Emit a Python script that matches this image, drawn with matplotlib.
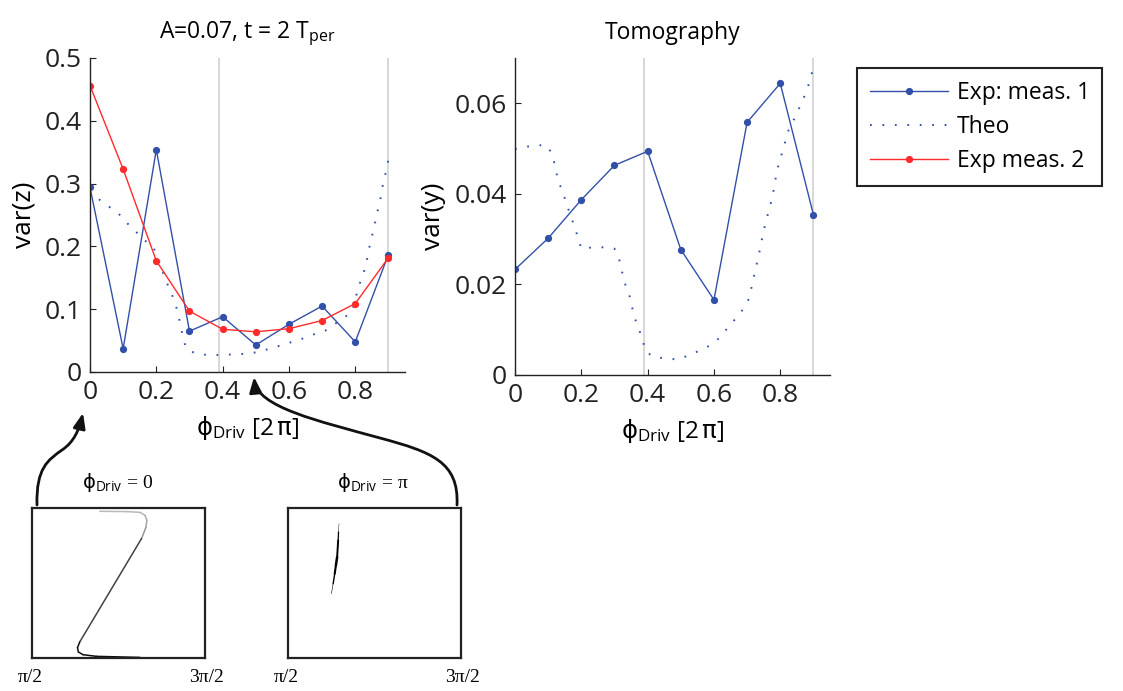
import numpy as np
import matplotlib
matplotlib.use("Agg")
import matplotlib.pyplot as plt
from matplotlib.collections import LineCollection
from matplotlib.patches import FancyArrowPatch
from matplotlib.path import Path

plt.rcParams['font.family'] = ['Open Sans', 'DejaVu Sans']
plt.rcParams['mathtext.fontset'] = 'custom'
plt.rcParams['mathtext.rm'] = 'Open Sans'
plt.rcParams['mathtext.it'] = 'Open Sans'
plt.rcParams['mathtext.sf'] = 'DejaVu Sans'

# driving phase [2 pi]
phi = [0.0, 0.1, 0.2, 0.3, 0.4, 0.5, 0.6, 0.7, 0.8, 0.9]

# var(z): two measurement runs
var_z_meas1 = [0.294, 0.037, 0.354, 0.065, 0.088, 0.043, 0.076, 0.105, 0.048, 0.187]
var_z_meas2 = [0.456, 0.323, 0.177, 0.097, 0.068, 0.064, 0.069, 0.082, 0.109, 0.182]

# var(z): theory curve
theo_z_phi = [0.027, 0.058, 0.085, 0.11, 0.136, 0.161, 0.19, 0.206, 0.226, 0.246,
              0.26, 0.27, 0.28, 0.29, 0.32, 0.357, 0.397, 0.43, 0.47, 0.51,
              0.54, 0.58, 0.61, 0.64, 0.68, 0.71, 0.74, 0.77, 0.79, 0.81,
              0.825, 0.835, 0.845, 0.855, 0.87, 0.88, 0.885, 0.895, 0.9]
theo_z = [0.275, 0.263, 0.253, 0.238, 0.225, 0.211, 0.2, 0.181, 0.149, 0.125,
          0.104, 0.082, 0.056, 0.037, 0.029, 0.027, 0.027, 0.028, 0.029, 0.032,
          0.037, 0.043, 0.048, 0.053, 0.061, 0.066, 0.077, 0.088, 0.096, 0.136,
          0.157, 0.178, 0.205, 0.226, 0.263, 0.285, 0.306, 0.322, 0.34]

# var(y) from tomography
var_y_meas1 = [0.0233, 0.0302, 0.0387, 0.0463, 0.0494, 0.0277, 0.0166, 0.0558, 0.0644, 0.0354]

theo_y_phi = [0.0, 0.035, 0.07, 0.1, 0.115, 0.13, 0.145, 0.155, 0.17, 0.18,
              0.19, 0.2, 0.235, 0.27, 0.3, 0.315, 0.33, 0.345, 0.36, 0.375,
              0.384, 0.396, 0.42, 0.456, 0.49, 0.526, 0.56, 0.59, 0.62, 0.64,
              0.666, 0.69, 0.706, 0.72, 0.736, 0.75, 0.76, 0.776, 0.79, 0.8,
              0.81, 0.827, 0.847, 0.862, 0.88, 0.897]
theo_y = [0.0499, 0.0504, 0.0508, 0.0505, 0.048, 0.0429, 0.0403, 0.0378, 0.0348, 0.0326,
          0.0304, 0.0279, 0.0282, 0.0282, 0.0279, 0.0253, 0.0205, 0.0176, 0.0128, 0.0099,
          0.0077, 0.0051, 0.0039, 0.0037, 0.0034, 0.0044, 0.0055, 0.0066, 0.0084, 0.0103,
          0.0125, 0.0147, 0.0169, 0.0216, 0.0268, 0.0319, 0.0348, 0.0392, 0.0451, 0.0477,
          0.0502, 0.0546, 0.0572, 0.0598, 0.0627, 0.0671]

# reference phases marked in both panels
guide_phi = [0.39, 0.9]

# phase-space snapshots (normalised inset coordinates)
snap0_u = [0.392, 0.546, 0.624, 0.653, 0.664, 0.658, 0.633, 0.276, 0.263, 0.268, 0.295, 0.373, 0.624]
snap0_v = [0.978, 0.976, 0.971, 0.951, 0.918, 0.869, 0.796, 0.107, 0.069, 0.040, 0.022, 0.011, 0.004]
snap1_u = [0.295, 0.292, 0.290, 0.284, 0.277, 0.270, 0.261, 0.251]
snap1_v = [0.896, 0.840, 0.784, 0.673, 0.618, 0.562, 0.495, 0.429]
snap1_w = [0.3, 0.9, 1.4, 1.8, 1.5, 1.0, 0.4]

BLUE = '#3350a8'
RED = '#ff2a2a'
GUIDE = '#d4d4d4'
TICK_FS = 19
LABEL_FS = 19

W, H = 1123, 691
fig = plt.figure(figsize=(W / 100, H / 100), dpi=100)


def px(x, y):
    return (x / W, 1 - y / H)


def style_axes(ax):
    for s in ('top', 'right'):
        ax.spines[s].set_visible(False)
    for s in ('left', 'bottom'):
        ax.spines[s].set_linewidth(1.0)
        ax.spines[s].set_color('#222222')
    ax.tick_params(direction='in', length=4, width=0.8, labelsize=TICK_FS,
                   colors='#222222', pad=6)
    for g in guide_phi:
        ax.axvline(g, color=GUIDE, lw=1.3, zorder=0)


theo_kw = dict(color=BLUE, lw=1.4, linestyle=(0, (0.9, 5.5)))
meas_kw = dict(lw=1.0, marker='o', ms=4.2)
PHI = r'\mathsf{\phi}_{\mathrm{Driv}}'
xlab = r'$' + PHI + r'$ [2$\,\mathsf{\pi}$]'

ax1 = fig.add_axes([90 / W, 1 - 372 / H, 315 / W, 314 / H])
style_axes(ax1)
l1, = ax1.plot(phi, var_z_meas1, color=BLUE, label='Exp: meas. 1', **meas_kw)
l2, = ax1.plot(theo_z_phi, theo_z, label='Theo', **theo_kw)
l3, = ax1.plot(phi, var_z_meas2, color=RED, label='Exp meas. 2', **meas_kw)
ax1.set_xlim(0, 0.95)
ax1.set_ylim(0, 0.5)
ax1.set_xticks([0, 0.2, 0.4, 0.6, 0.8])
ax1.set_xticklabels(['0', '0.2', '0.4', '0.6', '0.8'])
ax1.set_yticks([0, 0.1, 0.2, 0.3, 0.4, 0.5])
ax1.set_yticklabels(['0', '0.1', '0.2', '0.3', '0.4', '0.5'])
ax1.set_ylabel('var(z)', fontsize=LABEL_FS, labelpad=6)
ax1.set_xlabel(xlab, fontsize=17.5, labelpad=6)
ax1.set_title(r'A=0.07, t = 2 T$_{\mathrm{per}}$', fontsize=16.5, pad=14)

ax2 = fig.add_axes([515 / W, 1 - 375 / H, 315 / W, 317 / H])
style_axes(ax2)
ax2.plot(phi, var_y_meas1, color=BLUE, **meas_kw)
ax2.plot(theo_y_phi, theo_y, **theo_kw)
ax2.set_xlim(0, 0.95)
ax2.set_ylim(0, 0.07)
ax2.set_xticks([0, 0.2, 0.4, 0.6, 0.8])
ax2.set_xticklabels(['0', '0.2', '0.4', '0.6', '0.8'])
ax2.set_yticks([0, 0.02, 0.04, 0.06])
ax2.set_yticklabels(['0', '0.02', '0.04', '0.06'])
ax2.set_ylabel('var(y)', fontsize=LABEL_FS, labelpad=6)
ax2.set_xlabel(xlab, fontsize=17.5, labelpad=6)
ax2.set_title('Tomography', fontsize=16.5, pad=14)

leg = fig.legend(handles=[l1, l2, l3], loc='upper left',
                 bbox_to_anchor=px(857, 68), fontsize=16.5, frameon=True,
                 fancybox=False, edgecolor='#222222', framealpha=1,
                 handlelength=3.4, handletextpad=0.4, labelspacing=0.45,
                 borderpad=0.55, borderaxespad=0)
leg.get_frame().set_linewidth(1.5)

# phase-space insets
def snapshot_axes(x0):
    ax = fig.add_axes([x0 / W, 1 - 658 / H, 173 / W, 150 / H])
    ax.set_xlim(0, 1)
    ax.set_ylim(0, 1)
    ax.set_xticks([])
    ax.set_yticks([])
    for s in ax.spines.values():
        s.set_linewidth(1.6)
        s.set_color('#222222')
    return ax


axs0 = snapshot_axes(32)
pts = np.column_stack([snap0_u, snap0_v])
segs = np.stack([pts[:-1], pts[1:]], axis=1)
mid_v = 0.5 * (pts[:-1, 1] + pts[1:, 1])
grays = [(0.05 + 0.7 * v ** 1.5,) * 3 for v in mid_v]
axs0.add_collection(LineCollection(segs, colors=grays, linewidths=1.1,
                                   capstyle='round'))

axs1 = snapshot_axes(288)
pts = np.column_stack([snap1_u, snap1_v])
segs = np.stack([pts[:-1], pts[1:]], axis=1)
axs1.add_collection(LineCollection(segs, colors='black', linewidths=snap1_w,
                                   capstyle='round'))

serif = ['Liberation Serif', 'DejaVu Serif']
for xl, xr in [(30, 207), (286, 463)]:
    fig.text(*px(xl, 677), 'π/2', ha='center', va='center', fontsize=14, family=serif)
    fig.text(*px(xr, 677), '3π/2', ha='center', va='center', fontsize=14, family=serif)
fig.text(*px(118, 482), r'$' + PHI + r'$ = 0', ha='center', va='center',
         fontsize=14, family=serif)
fig.text(*px(373, 482), r'$' + PHI + r'$ = π', ha='center', va='center',
         fontsize=14, family=serif)

# curved arrows from snapshots to their phases
def curved_arrow(points):
    verts = [px(x, y) for x, y in points]
    codes = [Path.MOVETO] + [Path.CURVE4] * (len(verts) - 1)
    arr = FancyArrowPatch(path=Path(verts, codes), transform=fig.transFigure,
                          arrowstyle='-|>,head_length=0.7,head_width=0.28',
                          mutation_scale=13, lw=2.0, color='#111111',
                          shrinkA=0, shrinkB=0)
    fig.add_artist(arr)


curved_arrow([(37, 505), (36, 468), (48, 460), (62, 450),
              (74, 442), (79, 430), (83, 413)])
curved_arrow([(457, 505), (459, 462), (432, 452), (380, 438),
              (318, 421), (257, 407), (254, 377)])

fig.savefig('out.png', dpi=100)
